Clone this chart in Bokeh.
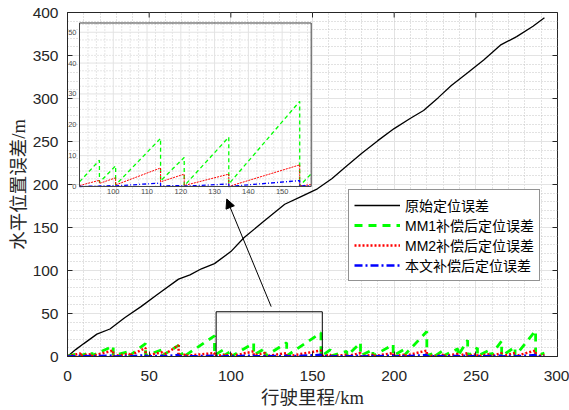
import math
from bokeh.plotting import figure
from bokeh.models import (Range1d, FixedTicker, Legend, LegendItem,
                          Arrow, NormalHead)
from bokeh.embed import file_html
from bokeh.resources import INLINE
from bokeh.core.properties import value

# ---------------- data ----------------
black_x = [0, 5, 10, 18, 26, 35, 45, 55, 68, 75, 82, 90, 100, 108, 120, 133, 143,
           153, 162, 170, 180, 190, 200, 210, 218, 227, 235, 245, 255, 265, 275, 285, 292]
black_y = [0, 8, 15, 26, 32, 45, 58, 72, 90, 95, 102, 108, 122, 138, 157, 177, 186,
           195, 207, 220, 236, 251, 265, 277, 286, 301, 315, 330, 345, 362, 372, 384, 394]

# correction (reset) points along the route, km
resets = [0, 8, 15, 28, 38, 47.8, 58, 68, 72, 90, 95.9, 100.7, 114, 121, 134.2, 155.2,
          161, 171, 179.4, 187, 199.4, 206, 220, 225, 230, 239, 245, 251, 259, 265.8,
          274, 286.6, 292]
green_start = [0.5, 1, 1, 1, 1, 1, 1, 1, 1, 1.5, 1.3, 0.5, 1.8, 0.2, 0.8, 0.2,
               0.5, 0.5, 1, 0.5, 1, 1, 1, 0.5, 0.5, 0.5, 0.5, 0.5, 0.5, 0.5, 0.5, 0.5]
green_peak = [4, 5, 12, 6, 15, 8, 13, 5, 24, 8.5, 6.7, 15.6, 9.4, 16, 27.6, 8,
              6, 16, 8, 14, 8, 29, 4, 7, 9, 19, 10, 8, 18, 11, 30, 4]
red_start = [0.3, 0.8, 0.8, 0.8, 0.8, 0.8, 0.8, 0.8, 0.8, 0.3, 1, 0.5, 1.5, 0.3, 0, 0.2,
             0.3, 0.3, 0.3, 0.3, 0.3, 0.3, 0.3, 0.3, 0.3, 0.3, 0.3, 0.3, 0.3, 0.3, 0.3, 0.3]
red_peak = [3.5, 3, 7, 3, 10, 5, 13, 2, 4, 2, 2.8, 6, 4, 4, 7, 2,
            2, 4, 2, 4, 2, 7, 1, 2, 3, 4, 3, 3, 4, 4, 7, 1.5]
blue_start = [0, 0.1, 0.1, 0.1, 0.1, 0.1, 0.1, 0.1, 0.1, 0, 0.15, 0.2, 0.2, 0.1, 0, 0.2,
              0.1, 0.1, 0.1, 0.1, 0.1, 0.1, 0.1, 0.1, 0.1, 0.1, 0.1, 0.1, 0.1, 0.1, 0.1, 0.1]
blue_peak = [0.6, 0.5, 1.2, 0.6, 1.5, 0.8, 1.8, 0.3, 0.8, 0.15, 0.3, 1.1, 0.3, 0.8, 1.9, 0.4,
             0.5, 1, 0.5, 1, 0.5, 1.8, 0.3, 0.5, 0.7, 1, 0.7, 0.6, 1, 0.8, 1.8, 0.4]

# values at the right edge of the inset (km 158.5)
inset_edge_x = 158.5
green_edge, red_edge, blue_edge = 4, 0.6, 0.3

labels = ["原始定位误差", "MM1补偿后定位误差", "MM2补偿后定位误差", "本文补偿后定位误差"]

x_ticks = [0, 50, 100, 150, 200, 250, 300]
y_ticks = [0, 50, 100, 150, 200, 250, 300, 350, 400]
inset_xticks = [100, 110, 120, 130, 140, 150]
inset_yticks = [0, 10, 20, 30, 40, 50]
inset_xlim = (90, 158.6)
inset_ylim = (0, 53)
zoom_box = (91, 156, 0, 52)               # rectangle marked in the main axes
inset_box = (7.35, 149.2, 197.7, 387.8)   # where the inset sits, in main-axes units
arrow_from = (124.7, 58)
arrow_to = (97.5, 183)


def sawtooth(starts, peaks, first=0, last=None):
    last = len(starts) if last is None else last
    xs, ys = [], []
    for i in range(first, last):
        xs += [resets[i], resets[i + 1]]
        ys += [starts[i], peaks[i]]
    return xs, ys


DARK = "#262626"
GREEN, RED, BLUE = "#00ff00", "#ff0000", "#0000ff"
LATIN_CJK = "Liberation Sans, Noto Sans CJK SC"

p = figure(width=569, height=410, x_range=Range1d(0, 300), y_range=Range1d(0, 400),
           output_backend="svg", toolbar_location=None,
           min_border_left=67, min_border_right=12, min_border_top=12, min_border_bottom=54)
p.background_fill_color = "white"
p.border_fill_color = "white"
p.outline_line_color = DARK

x_minor = [v for v in range(0, 301, 10) if v % 50]
y_minor = [v for v in range(0, 401, 10) if v % 50]
p.xaxis.ticker = FixedTicker(ticks=x_ticks, minor_ticks=x_minor)
p.yaxis.ticker = FixedTicker(ticks=y_ticks, minor_ticks=y_minor)

for ax in (p.xaxis[0], p.yaxis[0]):
    ax.major_tick_in = 5
    ax.major_tick_out = 0
    ax.minor_tick_line_color = None
    ax.axis_line_color = DARK
    ax.major_tick_line_color = DARK
    ax.major_label_text_font = "Liberation Sans"
    ax.major_label_text_font_size = "15.5px"
    ax.major_label_text_color = DARK
    ax.axis_label_text_font = "Liberation Serif, Noto Sans CJK SC"
    ax.axis_label_text_font_size = "18.5px"
    ax.axis_label_text_font_style = "normal"
    ax.axis_label_text_color = DARK

p.xaxis.axis_label = "行驶里程/km"
p.yaxis.axis_label = "水平位置误差/m"
p.xaxis.major_label_standoff = 10
p.xaxis.axis_label_standoff = 4
p.yaxis.major_label_standoff = 5
p.yaxis.axis_label_standoff = 1

p.grid.grid_line_color = "#e3e3e3"
p.grid.minor_grid_line_color = "#c4c4c4"
p.grid.minor_grid_line_dash = "1 2"

# tick marks on the top and right edges of the box
p.scatter(x=x_ticks, y=[400] * len(x_ticks), marker="dash", angle=math.pi / 2, size=10,
          line_color=DARK, line_width=1)
p.scatter(x=[300] * len(y_ticks), y=y_ticks, marker="dash", size=10, line_color=DARK, line_width=1)

# ---------------- main series ----------------
gx, gy = sawtooth(green_start, green_peak)
rx, ry = sawtooth(red_start, red_peak)
bx, by = sawtooth(blue_start, blue_peak)

r_black = p.line(black_x, black_y, line_color="black", line_width=1.3)
r_green = p.line(gx, gy, line_color=GREEN, line_width=2.8, line_dash="8 6")
r_red = p.line(rx, ry, line_color=RED, line_width=2.5, line_dash="2 2")
r_blue = p.line(bx, by, line_color=BLUE, line_width=2.5, line_dash="8 3 2 3")

# marked zoom region
p.quad(left=[zoom_box[0]], right=[zoom_box[1]], bottom=[zoom_box[2]], top=[zoom_box[3]],
       fill_color=None, line_color="black", line_width=1)

# ---------------- inset (drawn through its own ranges) ----------------
bx0, bx1, by0, by1 = inset_box
sx = (inset_xlim[1] - inset_xlim[0]) / (bx1 - bx0)
sy = (inset_ylim[1] - inset_ylim[0]) / (by1 - by0)
p.extra_x_ranges = {"ix": Range1d(inset_xlim[0] - bx0 * sx, inset_xlim[0] + (300 - bx0) * sx)}
p.extra_y_ranges = {"iy": Range1d(inset_ylim[0] - by0 * sy, inset_ylim[0] + (400 - by0) * sy)}
IN = dict(x_range_name="ix", y_range_name="iy")

p.quad(left=[inset_xlim[0]], right=[inset_xlim[1]], bottom=[inset_ylim[0]], top=[inset_ylim[1]],
       fill_color="white", line_color=None, **IN)

ix_minor = [inset_xlim[0] + 2.5 * k for k in range(1, 28)
            if inset_xlim[0] + 2.5 * k < inset_xlim[1] and (inset_xlim[0] + 2.5 * k) % 10]
iy_minor = [2.5 * k for k in range(1, 22) if 2.5 * k < inset_ylim[1] and (2.5 * k) % 10]
p.segment(x0=ix_minor, x1=ix_minor, y0=[inset_ylim[0]] * len(ix_minor), y1=[inset_ylim[1]] * len(ix_minor),
          line_color="#cccccc", line_dash="1 2", line_width=1, **IN)
p.segment(y0=iy_minor, y1=iy_minor, x0=[inset_xlim[0]] * len(iy_minor), x1=[inset_xlim[1]] * len(iy_minor),
          line_color="#cccccc", line_dash="1 2", line_width=1, **IN)
p.segment(x0=inset_xticks, x1=inset_xticks, y0=[inset_ylim[0]] * 6, y1=[inset_ylim[1]] * 6,
          line_color="#e3e3e3", line_width=1, **IN)
iyt = inset_yticks[1:]
p.segment(y0=iyt, y1=iyt, x0=[inset_xlim[0]] * len(iyt), x1=[inset_xlim[1]] * len(iyt),
          line_color="#e3e3e3", line_width=1, **IN)

i0 = resets.index(90)
i1 = resets.index(155.2)
for starts, peaks, edge, col, w, dash in (
        (green_start, green_peak, green_edge, GREEN, 1.3, "4 3"),
        (red_start, red_peak, red_edge, RED, 1.0, "2 1"),
        (blue_start, blue_peak, blue_edge, BLUE, 1.3, "4 2 1 2")):
    xs, ys = sawtooth(starts, peaks, i0, i1)
    xs += [resets[i1], inset_edge_x]
    ys += [starts[i1], edge]
    p.line(xs, ys, line_color=col, line_width=w, line_dash=dash, **IN)

p.quad(left=[inset_xlim[0]], right=[inset_xlim[1]], bottom=[inset_ylim[0]], top=[inset_ylim[1]],
       fill_color=None, line_color="#404040", line_width=1, **IN)

p.text(x=inset_xticks, y=[inset_ylim[0]] * len(inset_xticks), text=[str(t) for t in inset_xticks],
       text_font=value("Liberation Sans"), text_font_size="7.5px", text_color="#4d4d4d",
       text_align="center", text_baseline="top", y_offset=3, **IN)
p.text(x=[inset_xlim[0]] * len(inset_yticks), y=inset_yticks, text=[str(t) for t in inset_yticks],
       text_font=value("Liberation Sans"), text_font_size="7.5px", text_color="#4d4d4d",
       text_align="right", text_baseline="middle", x_offset=-3, **IN)

# arrow pointing at the inset
p.add_layout(Arrow(end=NormalHead(size=9, fill_color="black", line_color="black"),
                   x_start=arrow_from[0], y_start=arrow_from[1],
                   x_end=arrow_to[0], y_end=arrow_to[1],
                   line_color="black", line_width=1))

# ---------------- legend ----------------
legend = Legend(items=[LegendItem(label=labels[0], renderers=[r_black]),
                       LegendItem(label=labels[1], renderers=[r_green]),
                       LegendItem(label=labels[2], renderers=[r_red]),
                       LegendItem(label=labels[3], renderers=[r_blue])],
                location=(281, 75))
legend.label_text_font = LATIN_CJK
legend.label_text_font_size = "14px"
legend.label_text_color = "black"
legend.glyph_width = 46
legend.glyph_height = 18
legend.label_height = 18
legend.label_standoff = 5
legend.padding = 5
legend.spacing = 0
legend.margin = 0
legend.border_line_color = DARK
legend.border_line_width = 1
legend.background_fill_alpha = 1
p.add_layout(legend)

open("out.html", "w").write(file_html(p, INLINE))
